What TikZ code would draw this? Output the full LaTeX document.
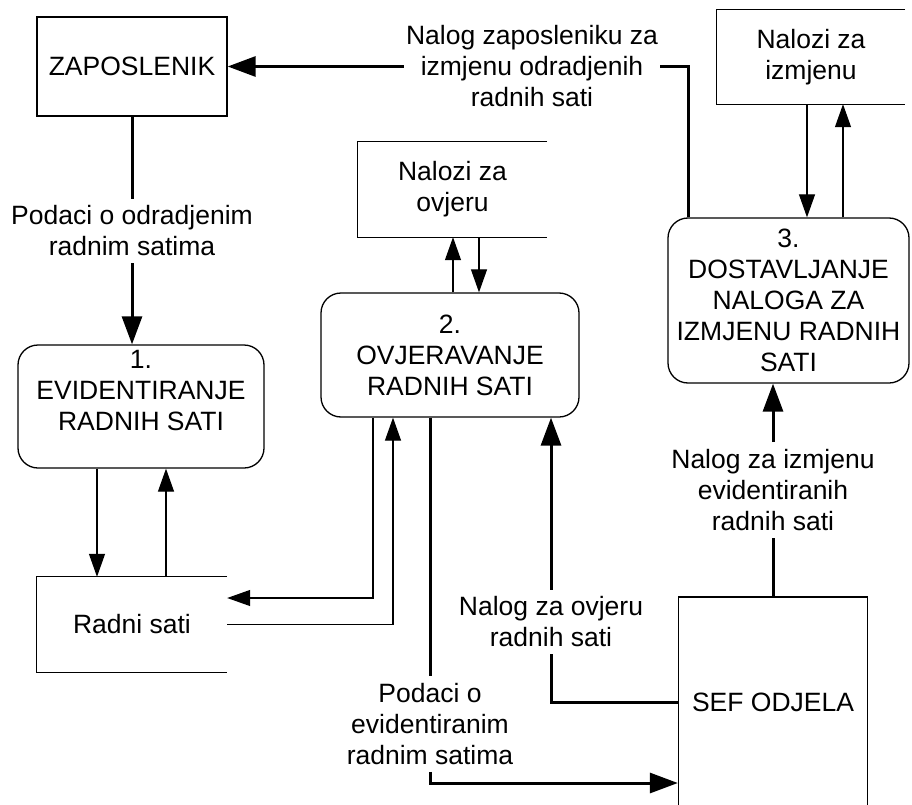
\documentclass[tikz,border=0pt]{standalone}
\usepackage{fontspec}
\setmainfont{Liberation Sans}
\usetikzlibrary{arrows.meta, positioning}

\begin{document}
\begin{tikzpicture}[x=1pt,y=-1pt,
    txt/.style={font=\fontsize{26.5}{31}\selectfont,align=center},
    entity/.style={txt,rectangle,draw,line width=1.3pt,inner sep=0pt},
    proc/.style={txt,rectangle,rounded corners=20pt,draw,line width=1.3pt,inner sep=0pt},
    store/.style={txt,rectangle,inner sep=0pt},
    flowlbl/.style={txt,inner sep=7pt},
    bigflow/.style={line width=3pt},
    smallflow/.style={line width=1.2pt},
    bigtip/.style={-{Triangle[length=28pt,width=20pt]}},
    smalltip/.style={-{Triangle[length=23pt,width=16pt]}}]
    \useasboundingbox (0,0) rectangle (912,805);
    % External entities
    \node[entity,minimum width=190pt,minimum height=99pt] (zap) at (132,66.5) {ZAPOSLENIK};
    \node[entity,minimum width=189pt,minimum height=210pt] (sef) at (773,702) {SEF ODJELA};
    % Processes
    \node[proc,minimum width=246pt,minimum height=123pt] (p1) at (141,406.5) {};
    \node[txt] (p1txt) at ([yshift=16pt]p1.center) {1.\\EVIDENTIRANJE\\RADNIH SATI};
    \node[proc,minimum width=258pt,minimum height=124pt] (p2) at (450,355)
         {2.\\OVJERAVANJE\\RADNIH SATI};
    \node[proc,minimum width=241pt,minimum height=165pt] (p3) at (788.5,300.5)
         {3.\\DOSTAVLJANJE\\NALOGA ZA\\IZMJENU RADNIH\\SATI};
    % Data stores
    \node[store,minimum width=190pt,minimum height=95pt] (rs) at (132,624.5) {Radni sati};
    \node[store,minimum width=189pt,minimum height=95pt] (nov) at (452.5,189.5) {Nalozi za\\ovjeru};
    \node[store,minimum width=188pt,minimum height=94pt] (niz) at (811,57) {Nalozi za\\izmjenu};
    \foreach \s in {rs,nov,niz}
      \draw[line width=1.3pt] (\s.north east) -- (\s.north west) -- (\s.south west) -- (\s.south east);
    % Flow labels
    \node[flowlbl] (l1) at (132,231) {Podaci o odradjenim\\radnim satima};
    \node[flowlbl,inner xsep=2pt] (l2) at (532,66.5) {Nalog zaposleniku za\\izmjenu odradjenih\\radnih sati};
    \node[flowlbl] (l3) at (430,724) {Podaci o\\evidentiranim\\radnim satima};
    \node[flowlbl] (l4) at (551,622) {Nalog za ovjeru\\radnih sati};
    \node[flowlbl] (l5) at (773,490) {Nalog za izmjenu\\evidentiranih\\radnih sati};
    % Employee -> 1
    \draw[bigflow] (zap) -- (l1);
    \draw[bigflow,bigtip] (l1) -- (l1 |- p1.north);
    % 3 -> Employee
    \draw[bigflow] (688,0 |- p3.north) |- (l2.east);
    \draw[bigflow,bigtip] (l2.west) -- (zap.east);
    % 1 <-> Radni sati
    \draw[smallflow,smalltip] (97,0 |- p1.south) -- (97,0 |- rs.north);
    \draw[smallflow,smalltip] (166,0 |- rs.north) -- (166,0 |- p1.south);
    % 2 <-> Radni sati
    \draw[smallflow,smalltip] (373,0 |- p2.south) |- ([yshift=26.5pt]rs.east);
    \draw[smallflow,smalltip] (rs.east) -| (393,0 |- p2.south);
    % 2 <-> Nalozi za ovjeru
    \draw[smallflow,smalltip] (453,0 |- p2.north) -- (453,0 |- nov.south);
    \draw[smallflow,smalltip] (479,0 |- nov.south) -- (479,0 |- p2.north);
    % 3 <-> Nalozi za izmjenu
    \draw[smallflow,smalltip] (807,0 |- niz.south) -- (807,0 |- p3.north);
    \draw[smallflow,smalltip] (843,0 |- p3.north) -- (843,0 |- niz.south);
    % 2 -> SEF
    \draw[bigflow] (l3 |- p2.south) -- (l3);
    \draw[bigflow,bigtip] (l3.south) |- ([yshift=-81pt]sef.west);
    % SEF -> 2
    \draw[bigflow] (sef.west) -| (l4.south);
    \draw[bigflow,bigtip] (l4) -- (l4 |- p2.south);
    % SEF -> 3
    \draw[bigflow] (sef) -- (l5);
    \draw[bigflow,bigtip] (l5) -- (l5 |- p3.south);
\end{tikzpicture}
\end{document}
